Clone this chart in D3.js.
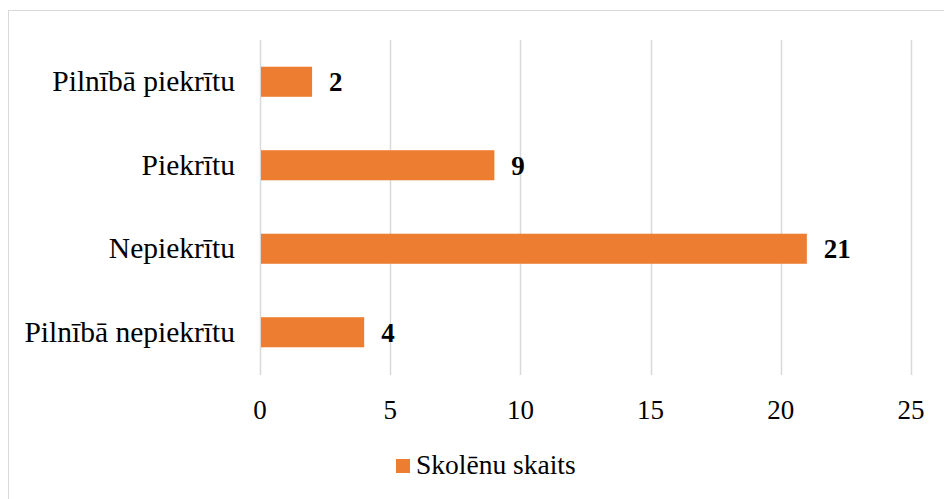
<!DOCTYPE html>
<html><head><meta charset="utf-8">
<script src="https://cdn.jsdelivr.net/npm/d3@7"></script>
<style>body{margin:0;background:#fff}svg{display:block}svg text{font-family:"Liberation Serif","Times New Roman",Times,serif}</style>
</head><body>
<svg id="c" width="944" height="499"></svg>
<script>
const categories = ["Pilnībā piekrītu", "Piekrītu", "Nepiekrītu", "Pilnībā nepiekrītu"];
const values = [2, 9, 21, 4];
const xTicks = [0, 5, 10, 15, 20, 25];
const seriesName = "Skolēnu skaits";

const svg = d3.select("#c");
svg.append("rect").attr("x",8.5).attr("y",10.5).attr("width",960).attr("height",520)
  .attr("fill","#fff").attr("stroke","#d9d9d9").attr("stroke-width",1);

const x = d3.scaleLinear().domain([0,25]).range([260,911]);
const y = d3.scaleBand().domain(categories).range([40,374]).paddingInner(0.64).paddingOuter(0.32);

svg.append("g").selectAll("line").data(xTicks).join("line")
  .attr("x1",d=>Math.round(x(d))+0.5).attr("x2",d=>Math.round(x(d))+0.5)
  .attr("y1",40).attr("y2",375).attr("stroke","#d9d9d9").attr("stroke-width",1.5);

svg.append("g").selectAll("rect").data(values).join("rect")
  .attr("x",x(0)+1).attr("y",(d,i)=>y(categories[i]))
  .attr("width",d=>x(d)-x(0)-1).attr("height",y.bandwidth()).attr("fill","#ed7d31");

svg.append("g").selectAll("text").data(values).join("text")
  .attr("x",d=>x(d)+17).attr("y",(d,i)=>y(categories[i])+y.bandwidth()/2)
  .attr("dy","0.35em").attr("font-weight","bold")
  .attr("font-size",27).attr("fill","#000").text(d=>d);

svg.append("g").selectAll("text").data(categories).join("text")
  .attr("x",235).attr("y",d=>y(d)+y.bandwidth()/2).attr("dy","0.33em")
  .attr("text-anchor","end").attr("font-size",29.5)
  .attr("fill","#000").text(d=>d);

svg.append("g").selectAll("text").data(xTicks).join("text")
  .attr("x",d=>x(d)).attr("y",419).attr("text-anchor","middle")
  .attr("font-size",27).attr("fill","#000").text(d=>d);

svg.append("rect").attr("x",396).attr("y",459).attr("width",14).attr("height",14).attr("fill","#ed7d31");
svg.append("text").attr("x",416).attr("y",474).attr("font-size",27.5)
  .attr("fill","#000").text(seriesName);
</script>
</body></html>
